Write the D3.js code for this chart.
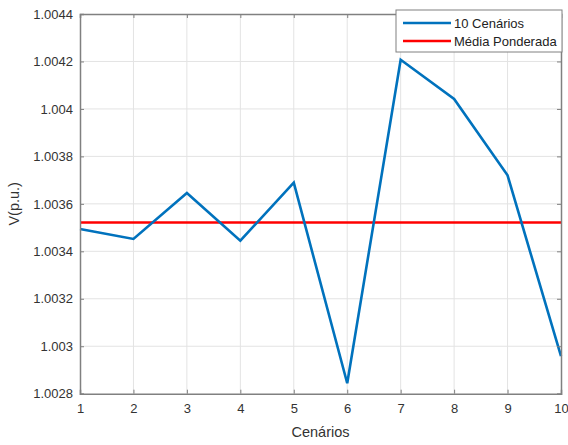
<!DOCTYPE html>
<html><head><meta charset="utf-8">
<script src="https://cdn.jsdelivr.net/npm/d3@7"></script>
<style>body{margin:0;background:#fff}svg{display:block}text{font-family:"Liberation Sans",Arial,sans-serif}</style>
</head><body><svg id="c" width="568" height="445"></svg>
<script>
const scenarios = [1,2,3,4,5,6,7,8,9,10];
const voltages = [1.003494,1.003452,1.003646,1.003445,1.003689,1.002844,1.004207,1.004042,1.00372,1.002958];
const weightedMean = 1.003521;
const xTicks = [1,2,3,4,5,6,7,8,9,10];
const yTicks = [1.0028,1.003,1.0032,1.0034,1.0036,1.0038,1.004,1.0042,1.0044];
const seriesNames = ["10 Cenários","Média Ponderada"];
const colors = ["#0072BD","#FF0000"];

const svg = d3.select("#c");
const L=80,R=561,T=14,B=393.7;
const x = d3.scaleLinear().domain([1,10]).range([L,R]);
const y = d3.scaleLinear().domain([1.0028,1.0044]).range([B,T]);
const fmt = d => String(+d.toFixed(4));

// grid
const g = svg.append("g");
g.selectAll(".gx").data(xTicks.slice(1,-1)).join("line")
 .attr("x1",d=>x(d)).attr("x2",d=>x(d)).attr("y1",T).attr("y2",B)
 .attr("stroke","#e3e3e3").attr("stroke-width",1);
g.selectAll(".gy").data(yTicks.slice(1,-1)).join("line")
 .attr("y1",d=>y(d)).attr("y2",d=>y(d)).attr("x1",L).attr("x2",R)
 .attr("stroke","#e3e3e3").attr("stroke-width",1);

// mean line
svg.append("line").attr("x1",x(1)).attr("x2",x(10)).attr("y1",y(weightedMean)).attr("y2",y(weightedMean))
 .attr("stroke",colors[1]).attr("stroke-width",2.5);
// series
svg.append("path").datum(scenarios.map((s,i)=>[s,voltages[i]]))
 .attr("d",d3.line().x(d=>x(d[0])).y(d=>y(d[1])))
 .attr("fill","none").attr("stroke",colors[0]).attr("stroke-width",2.6).attr("stroke-linejoin","miter");

// axes
const ax = svg.append("g").attr("transform",`translate(0,${B})`)
 .call(d3.axisBottom(x).tickValues(xTicks).tickSize(-4).tickPadding(10).tickFormat(d3.format("d")));
const axT = svg.append("g").attr("transform",`translate(0,${T})`)
 .call(d3.axisTop(x).tickValues(xTicks).tickSize(-4).tickFormat(""));
const ay = svg.append("g").attr("transform",`translate(${L},0)`)
 .call(d3.axisLeft(y).tickValues(yTicks).tickSize(-4).tickPadding(7).tickFormat(fmt));
const ayR = svg.append("g").attr("transform",`translate(${R},0)`)
 .call(d3.axisRight(y).tickValues(yTicks).tickSize(-4).tickFormat(""));
[ax,axT,ay,ayR].forEach(a=>{
  a.selectAll("path.domain").attr("stroke","#808080").attr("stroke-width",1.5);
  a.selectAll(".tick line").attr("stroke","#808080").attr("stroke-width",1);
  a.selectAll("text").attr("font-size",13).attr("fill","#333").style("font-family","Liberation Sans, Arial, sans-serif");
});

// labels
svg.append("text").attr("x",(L+R)/2).attr("y",437).attr("text-anchor","middle")
 .attr("font-size",14.5).attr("fill","#333").text("Cenários");
svg.append("text").attr("transform",`translate(19,${(T+B)/2}) rotate(-90)`).attr("text-anchor","middle")
 .attr("font-size",14.5).attr("fill","#333").text("V(p.u.)");

// legend
const lg = svg.append("g");
lg.append("rect").attr("x",396).attr("y",10).attr("width",166).attr("height",42)
 .attr("fill","#fff").attr("stroke","#808080").attr("stroke-width",1);
seriesNames.forEach((n,i)=>{
  const yy = 23+i*18;
  lg.append("line").attr("x1",403).attr("x2",451).attr("y1",yy).attr("y2",yy)
   .attr("stroke",colors[i]).attr("stroke-width",2.5);
  lg.append("text").attr("x",454).attr("y",yy+4.5).attr("font-size",13).attr("fill","#222").text(n);
});
</script></body></html>
